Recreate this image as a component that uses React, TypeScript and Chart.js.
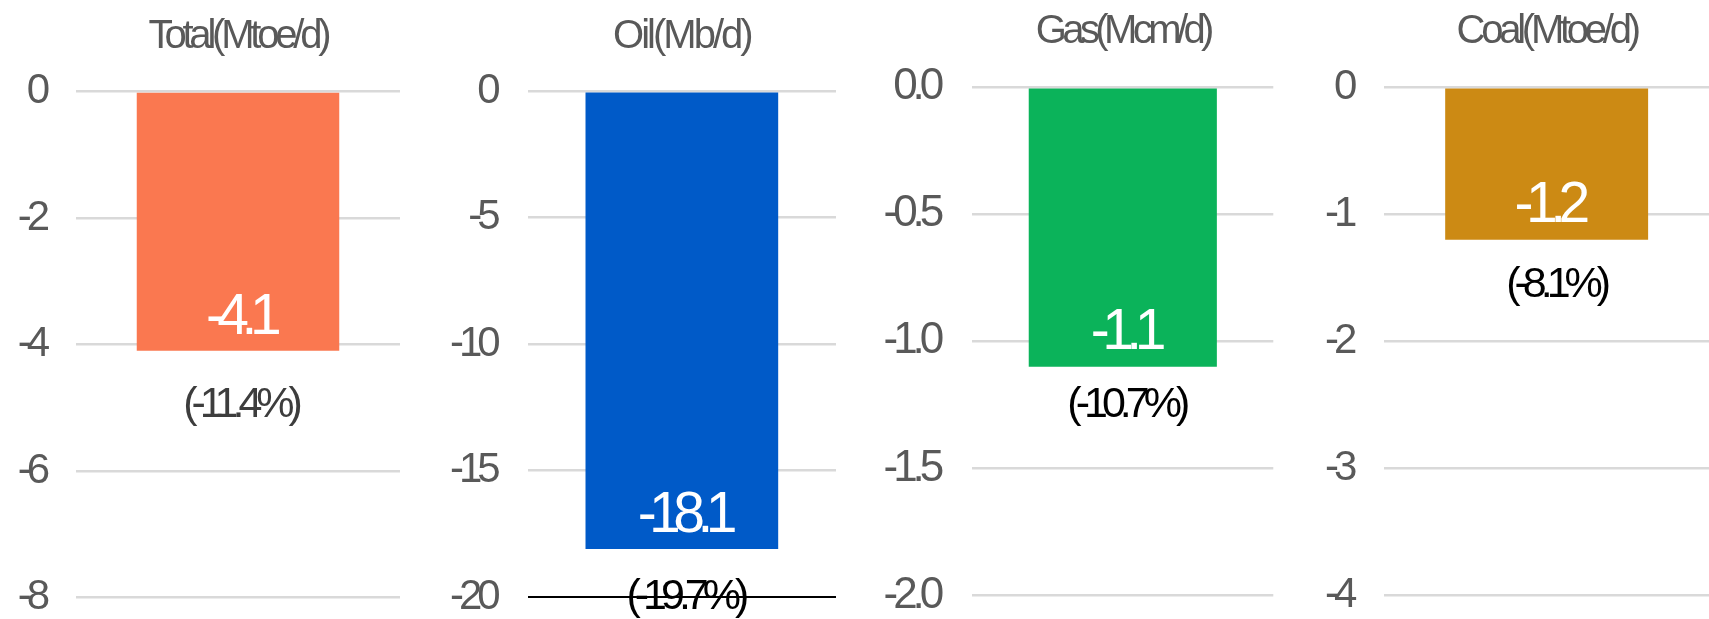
import React, { useEffect, useRef } from 'react';
import { Chart, registerables } from 'chart.js';

Chart.register(...registerables);

// Panel contents
const panelTitles = ['Total(Mtoe/d)', 'Oil(Mb/d)', 'Gas(Mcm/d)', 'Coal(Mtoe/d)'];
const categories = ['Total', 'Oil', 'Gas', 'Coal'];
const changeValues = [-4.1, -18.1, -1.1, -1.2];
const changeLabels = ['-4.1', '-18.1', '-1.1', '-1.2'];
const changePercents = ['(-11.4%)', '(-19.7%)', '(-10.7%)', '(-8.1%)'];

// Y-axis ticks per panel
const totalTicks = [0, -2, -4, -6, -8];
const totalTickLabels = ['0', '-2', '-4', '-6', '-8'];
const oilTicks = [0, -5, -10, -15, -20];
const oilTickLabels = ['0', '-5', '-10', '-15', '-20'];
const gasTicks = [0, -0.5, -1, -1.5, -2];
const gasTickLabels = ['0.0', '-0.5', '-1.0', '-1.5', '-2.0'];
const coalTicks = [0, -1, -2, -3, -4];
const coalTickLabels = ['0', '-1', '-2', '-3', '-4'];

const tickSets = [totalTicks, oilTicks, gasTicks, coalTicks];
const tickLabelSets = [totalTickLabels, oilTickLabels, gasTickLabels, coalTickLabels];

const FONT = "'Liberation Sans', Arial, sans-serif";
const PAGE_W = 1709;
const PAGE_H = 619;
const TITLE_SIZE = 40;

// Layout and styling of each small chart
const panelLayout = [
  { left: 0, width: 430, axisWidth: 76, padRight: 30, top: 91.5, bottom: 597.5, titleMid: 37, titleSpacing: -4.2, tickSize: 42, tickPad: 31, color: '#FA7850', noteY: 405, noteDx: 2, noteColor: '#3d3d3d', baseLine: false },
  { left: 430, width: 430, axisWidth: 97.7, padRight: 24, top: 91.3, bottom: 597, titleMid: 37, titleSpacing: -3, tickSize: 42, tickPad: 32, color: '#005AC8', noteY: 597, noteDx: 3, noteColor: '#000000', baseLine: true },
  { left: 860, width: 430, axisWidth: 112.3, padRight: 16.7, top: 87.3, bottom: 595.4, titleMid: 32, titleSpacing: -4.6, tickSize: 44, tickPad: 33, color: '#0BB35A', noteY: 405, noteDx: 3, noteColor: '#000000', baseLine: false },
  { left: 1290, width: 419, axisWidth: 94.3, padRight: 0, top: 87.2, bottom: 595.4, titleMid: 32, titleSpacing: -4.25, tickSize: 42, tickPad: 32, color: '#CC8A14', noteY: 285.5, noteDx: 9, noteColor: '#000000', baseLine: false },
];

// Text spacing: the title is drawn with the layers before the bars,
// the tick labels in a later layer (ticks.z = 1).
const barNotes = {
  id: 'barNotes',
  beforeDraw(chart: any, _args: any, opts: any) {
    chart.ctx.letterSpacing = `${opts.titleSpacing}px`;
  },
  afterDatasetsDraw(chart: any, _args: any, opts: any) {
    const bar = chart.getDatasetMeta(0).data[0];
    const ctx = chart.ctx;
    if (bar) {
      ctx.save();
      ctx.textAlign = 'center';
      ctx.textBaseline = 'middle';
      ctx.font = `57px ${FONT}`;
      ctx.letterSpacing = '-7.5px';
      ctx.fillStyle = '#ffffff';
      ctx.fillText(opts.valueText, bar.x + 2, bar.y - 33);
      ctx.font = `43px ${FONT}`;
      ctx.letterSpacing = '-6px';
      ctx.fillStyle = opts.noteColor;
      ctx.fillText(opts.noteText, bar.x + opts.noteDx, opts.noteY);
      ctx.restore();
    }
    ctx.letterSpacing = '-5px';
  },
};

function Panel({ index }: { index: number }) {
  const ref = useRef<HTMLCanvasElement | null>(null);
  const p = panelLayout[index];

  useEffect(() => {
    const canvas = ref.current;
    if (!canvas) return;
    const ticks = tickSets[index];
    const tickLabels = tickLabelSets[index];
    const lineH = TITLE_SIZE * 1.2;
    const titlePadTop = p.titleMid - lineH / 2;
    const titlePadBottom = p.top - titlePadTop - lineH;
    const lastTick = ticks[ticks.length - 1];

    const chart = new Chart(canvas, {
      type: 'bar',
      data: {
        labels: [categories[index]],
        datasets: [
          {
            data: [changeValues[index]],
            backgroundColor: p.color,
            borderWidth: 0,
            barPercentage: 0.625,
            categoryPercentage: 1,
          },
        ],
      },
      options: {
        animation: false,
        responsive: false,
        devicePixelRatio: 1,
        events: [],
        layout: { padding: { top: 0, left: 0, right: p.padRight, bottom: PAGE_H - p.bottom } },
        plugins: {
          legend: { display: false },
          tooltip: { enabled: false },
          title: {
            display: true,
            text: panelTitles[index],
            fullSize: false,
            color: '#595959',
            font: { family: FONT, size: TITLE_SIZE, weight: 'normal', lineHeight: 1.2 },
            padding: { top: titlePadTop, bottom: titlePadBottom },
          },
          barNotes: {
            valueText: changeLabels[index],
            noteText: changePercents[index],
            noteY: p.noteY,
            noteDx: p.noteDx,
            noteColor: p.noteColor,
            titleSpacing: p.titleSpacing,
          },
        } as any,
        scales: {
          x: { display: false },
          y: {
            min: lastTick,
            max: ticks[0],
            afterBuildTicks: (scale: any) => {
              scale.ticks = ticks.slice().reverse().map((v) => ({ value: v }));
            },
            afterFit: (scale: any) => {
              scale.width = p.axisWidth;
              scale.paddingTop = 0;
              scale.paddingBottom = 0;
            },
            border: { display: false },
            grid: {
              drawTicks: false,
              color: (c: any) => (p.baseLine && c.tick && c.tick.value === lastTick ? '#000000' : '#d9d9d9'),
              lineWidth: (c: any) => (p.baseLine && c.tick && c.tick.value === lastTick ? 2 : 2.5),
            },
            ticks: {
              z: 1,
              padding: p.tickPad,
              color: '#595959',
              font: { family: FONT, size: p.tickSize, lineHeight: 1 },
              callback: (v: any) => {
                const i = ticks.indexOf(Number(v));
                return i >= 0 ? tickLabels[i] : '';
              },
            },
          },
        },
      },
      plugins: [barNotes],
    });
    return () => chart.destroy();
  }, [index]);

  return (
    <canvas
      ref={ref}
      width={p.width}
      height={PAGE_H}
      style={{ position: 'absolute', left: p.left, top: 0, width: p.width, height: PAGE_H }}
    />
  );
}

export default function App() {
  return (
    <div style={{ position: 'absolute', left: 0, top: 0, width: PAGE_W, height: PAGE_H, background: '#ffffff', overflow: 'hidden' }}>
      {panelLayout.map((_, i) => (
        <Panel key={i} index={i} />
      ))}
    </div>
  );
}
